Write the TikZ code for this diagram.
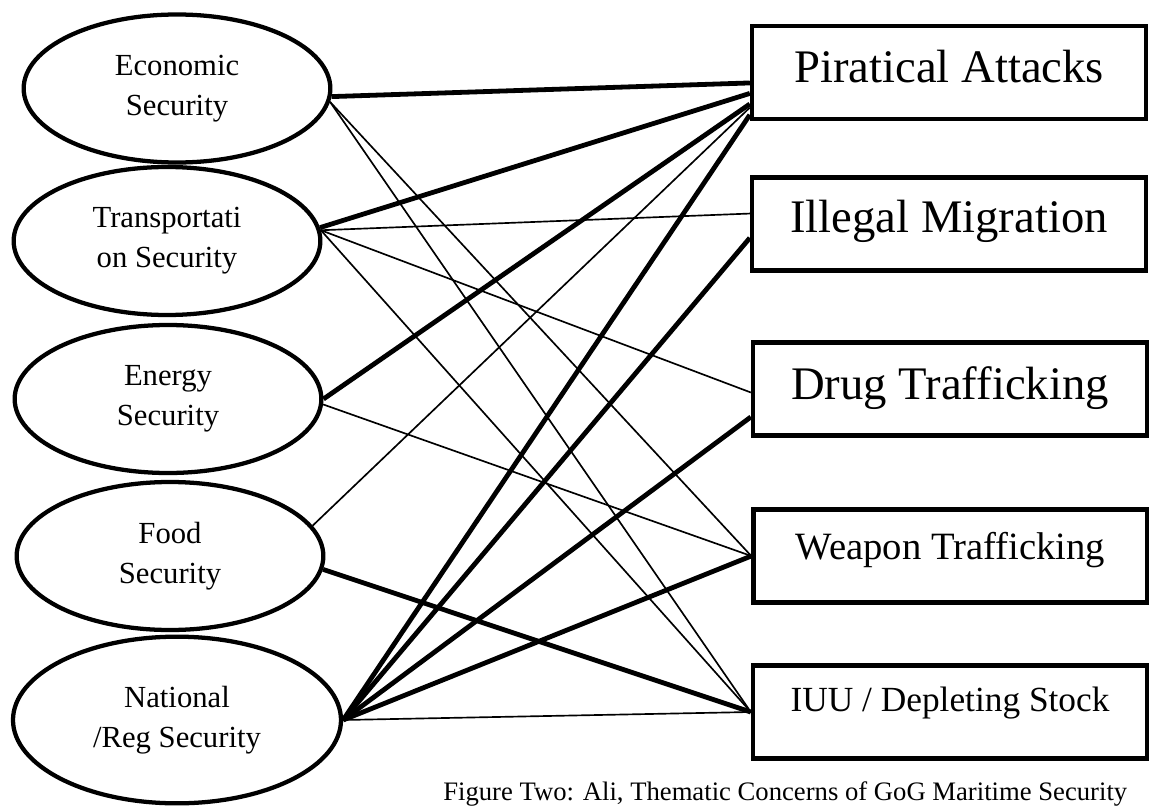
\documentclass[tikz,border=0pt]{standalone}
\usepackage{fontspec}
\setmainfont{Liberation Serif}
\usetikzlibrary{shapes.geometric}

\begin{document}
\begin{tikzpicture}[x=0.75pt,y=-0.75pt,
  concern/.style={ellipse, draw, line width=3.2pt, inner sep=0pt, align=center,
    minimum width=230pt, minimum height=111pt, font=\fontsize{23}{30}\selectfont},
  threat/.style={rectangle, draw, line width=3.3pt, inner sep=0pt,
    minimum width=295.5pt, minimum height=70pt},
  strong/.style={line width=3.6pt},
  weak/.style={line width=1.25pt}]
  \clip (0,0) rectangle (1149,806);
  \node[concern] (eco) at (177,88.5) {Economic\\Security};
  \node[concern] (trans) at (167,241) {Transportati\\on Security};
  \node[concern] (energy) at (168,399) {Energy\\Security};
  \node[concern] (food) at (170,556) {Food\\Security};
  \node[concern, minimum width=246pt, minimum height=125pt] (natl) at (177,720) {National\\/Reg Security};
  \node[threat, font=\fontsize{35}{42}\selectfont, text height=23pt, text depth=8pt] (pir) at (949,72.5) {Piratical Attacks};
  \node[threat, font=\fontsize{35}{42}\selectfont, text height=23pt, text depth=10.5pt] (migr) at (949,224) {Illegal Migration};
  \node[threat, font=\fontsize{35}{42}\selectfont, text height=23pt, text depth=7.5pt] (drug) at (950,389) {Drug Trafficking};
  \node[threat, font=\fontsize{29}{35}\selectfont, text height=19pt, text depth=13.5pt] (weap) at (950.5,556) {Weapon Trafficking};
  \node[threat, font=\fontsize{26.5}{32}\selectfont, text height=17.4pt, text depth=18pt] (iuu) at (950,712) {IUU / Depleting Stock};
  \node[anchor=base west, inner sep=0pt, font=\fontsize{20}{24}\selectfont] (caption) at (443,800) {Figure Two: Ali, Thematic Concerns of GoG Maritime Security};
  \draw[strong] (eco.357) -- (pir.183);
  \draw[weak] (eco.355) -- (weap.west);
  \draw[weak] (eco.355) -- (iuu.west);
  \draw[strong] (trans.5) -- (pir.186);
  \draw[weak] (trans.4) -- (migr.177);
  \draw[weak] (trans.4) -- (drug.181);
  \draw[weak] (trans.4) -- (iuu.west);
  \draw[strong] (energy.east) -- (pir.189);
  \draw[weak] (energy.358) -- (weap.west);
  \draw[weak] (food.12) -- (pir.190);
  \draw[strong] (food.355) -- (iuu.west);
  \draw[strong] (natl.east) -- (pir.192);
  \draw[strong] (natl.east) -- (migr.184);
  \draw[strong] (natl.east) -- (drug.188);
  \draw[strong] (natl.east) -- (weap.west);
  \draw[weak] (natl.east) -- (iuu.west);
\end{tikzpicture}
\end{document}
